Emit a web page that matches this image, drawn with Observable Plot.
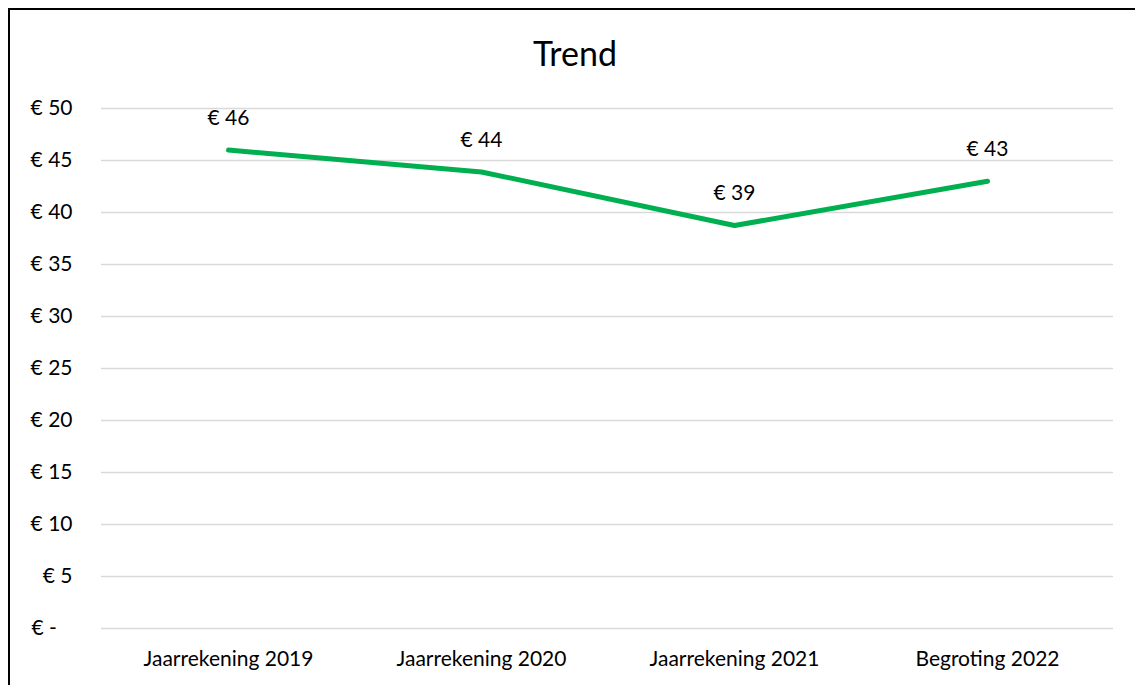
<!DOCTYPE html>
<html>
<head>
<meta charset="utf-8">
<script src="https://cdn.jsdelivr.net/npm/d3@7"></script>
<script src="https://cdn.jsdelivr.net/npm/@observablehq/plot@0.6"></script>
<style>
  html, body { margin: 0; padding: 0; background: #fff; overflow: hidden; }
  #frame { position: absolute; left: 8px; top: 8px; width: 1140px; height: 690px; border: 2px solid #000; box-sizing: border-box; }
  #title { position: absolute; left: 0; top: 0; width: 1150px; height: 80px; text-align: center; font-family: Lato, "Open Sans", sans-serif; font-size: 34px; line-height: 34px; padding-top: 36px; box-sizing: border-box; color: #000; }
  #chart { position: absolute; left: 0; top: 80px; }
</style>
</head>
<body>
<div id="frame"></div>
<div id="title">Trend</div>
<div id="chart"></div>
<script>
const categories = ["Jaarrekening 2019", "Jaarrekening 2020", "Jaarrekening 2021", "Begroting 2022"];
const values = [46, 43.9, 38.75, 43];
const valueLabels = ["€ 46", "€ 44", "€ 39", "€ 43"];
const yTicks = [0, 5, 10, 15, 20, 25, 30, 35, 40, 45, 50];

const data = categories.map((c, i) => ({category: c, value: values[i], label: valueLabels[i]}));

const font = "Lato, 'Open Sans', sans-serif";
const chart = Plot.plot({
  width: 1135,
  height: 605,
  marginTop: 28,
  marginBottom: 57,
  marginLeft: 101,
  marginRight: 22,
  style: {fontFamily: font, fontSize: "21px", color: "#000", background: "transparent"},
  x: {type: "point", domain: categories, padding: 0.5, label: null},
  y: {domain: [0, 50], label: null},
  marks: [
    Plot.ruleY(yTicks, {stroke: "#d9d9d9", strokeWidth: 1.5}),
    Plot.axisY({ticks: yTicks, tickSize: 0, tickPadding: 29, label: null,
      tickFormat: d => d === 0 ? "€ -\u2007\u2006" : "€ " + d, fontSize: 21}),
    Plot.axisX({tickSize: 0, tickPadding: 23, label: null, fontSize: 21}),
    Plot.line(data, {x: "category", y: "value", stroke: "#00B050", strokeWidth: 5, strokeLinecap: "round", strokeLinejoin: "round"}),
    Plot.text(data, {x: "category", y: "value", text: "label", dy: -32, fontSize: 21, fill: "#000"})
  ]
});
document.getElementById("chart").appendChild(chart);
</script>
</body>
</html>
